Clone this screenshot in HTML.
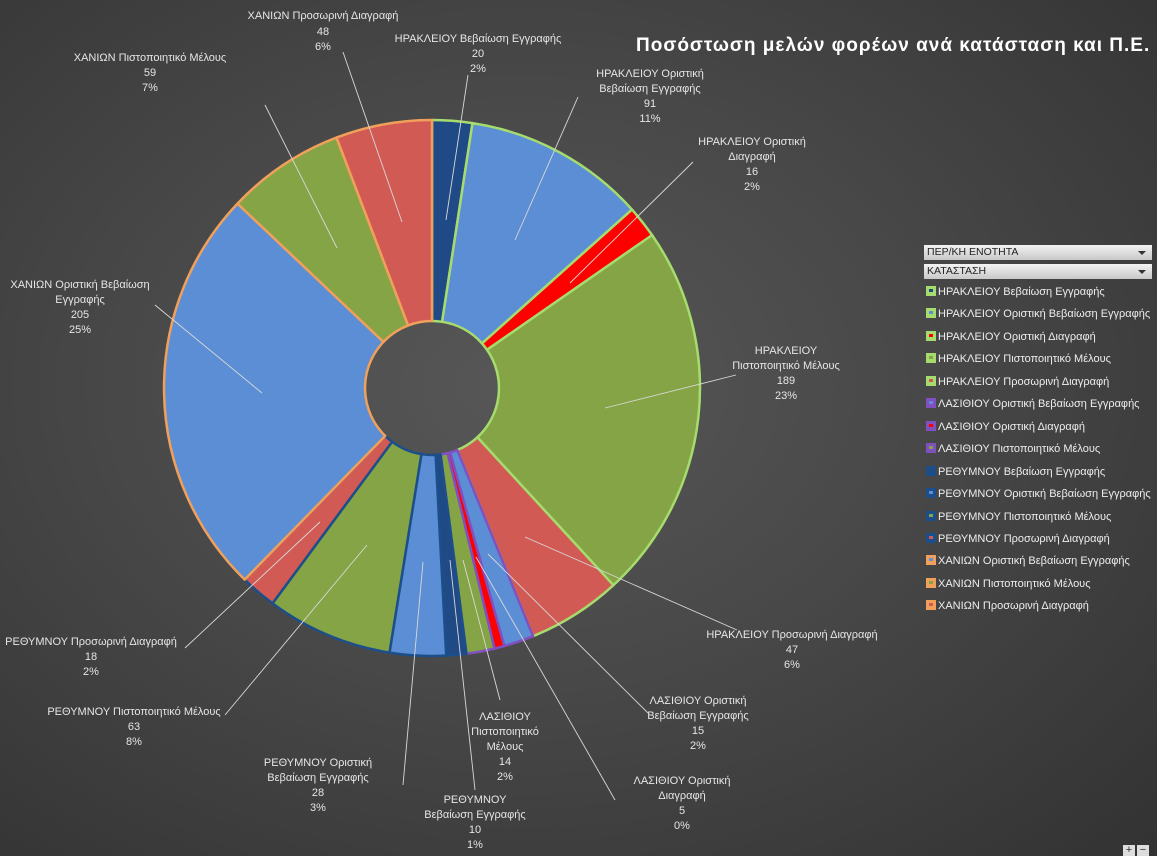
<!DOCTYPE html>
<html><head><meta charset="utf-8">
<style>
html,body{margin:0;padding:0}
body{width:1157px;height:856px;overflow:hidden;background:radial-gradient(ellipse at 45% 45%,#575757 0%,#484848 45%,#323232 100%);font-family:"Liberation Sans","DejaVu Sans",sans-serif;position:relative}
svg{position:absolute;left:0;top:0}
.lbl{font-size:11px;fill:#e6e6e6;text-anchor:middle}
.title{position:absolute;left:636px;top:35px;white-space:nowrap;color:#fff;font-weight:bold;font-size:19px;letter-spacing:1px}
.dd{position:absolute;left:924px;width:228px;height:15px;background:linear-gradient(#f2f2f2,#c8c8c8);color:#222;font-size:10.5px;line-height:15px;padding-left:3px;box-sizing:border-box}
.dd:after{content:"";position:absolute;right:6px;top:6px;border-left:4px solid transparent;border-right:4px solid transparent;border-top:4px solid #333}
.leg{position:absolute;left:926px;font-size:11px;color:#eee;white-space:nowrap;line-height:14px}
.leg i{display:inline-block;width:10px;height:10px;margin-right:2px;vertical-align:-1px;position:relative}
.leg i b{position:absolute;left:3px;top:3px;width:4px;height:3px}
.btn{position:absolute;top:845px;width:12px;height:11px;background:#ddd;color:#333;font-size:11px;line-height:10px;text-align:center}
</style></head><body>
<svg id="s" width="1157" height="856"></svg>
<div class="title">Ποσόστωση μελών φορέων ανά κατάσταση και Π.Ε.</div>
<div class="dd" style="top:245px">ΠΕΡ/ΚΗ ΕΝΟΤΗΤΑ</div>
<div class="dd" style="top:264px">ΚΑΤΑΣΤΑΣΗ</div>
<div id="legend"></div>
<div class="btn" style="left:1123px">+</div><div class="btn" style="left:1137px">−</div>
<script>
var NS="http://www.w3.org/2000/svg",s=document.getElementById('s');
var BL="#5b8ed4",GR="#84a445",RD="#d25a55",RR="#ff0000",DB="#1f4a86";
var HG="#a6dc6e",LP="#8050c0",RB="#1c4f8a",XO="#f0a05a";
var d=[[20,DB,HG],[91,BL,HG],[16,RR,HG],[189,GR,HG],[47,RD,HG],[15,BL,LP],[5,RR,LP],[14,GR,LP],[10,DB,RB],[28,BL,RB],[63,GR,RB],[18,RD,RB],[205,BL,XO],[59,GR,XO],[48,RD,XO]];
var tot=0;d.forEach(function(x){tot+=x[0]});
var cx=432,cy=388,R=268,r=67,a=-Math.PI/2;
function pt(rad,ang){return (cx+rad*Math.cos(ang)).toFixed(1)+","+(cy+rad*Math.sin(ang)).toFixed(1)}
d.forEach(function(x){
 var da=x[0]/tot*2*Math.PI,a2=a+da,lg=da>Math.PI?1:0;
 var p=document.createElementNS(NS,"path");
 p.setAttribute("d","M"+pt(R,a)+"A"+R+","+R+" 0 "+lg+" 1 "+pt(R,a2)+"L"+pt(r,a2)+"A"+r+","+r+" 0 "+lg+" 0 "+pt(r,a)+"Z");
 p.setAttribute("fill",x[1]);p.setAttribute("stroke",x[2]);p.setAttribute("stroke-width","2.5");p.setAttribute("stroke-linejoin","round");
 s.appendChild(p);a=a2;
});
var L=[
[323,[15,31,46],["ΧΑΝΙΩΝ Προσωρινή Διαγραφή","48","6%"],[343,52,402,222]],
[478,[38,53,68],["ΗΡΑΚΛΕΙΟΥ Βεβαίωση Εγγραφής","20","2%"],[468,75,446,220]],
[150,[57,72,87],["ΧΑΝΙΩΝ Πιστοποιητικό Μέλους","59","7%"],[265,105,337,248]],
[650,[73,88,103,118],["ΗΡΑΚΛΕΙΟΥ Οριστική","Βεβαίωση Εγγραφής","91","11%"],[578,97,515,240]],
[752,[141,156,171,186],["ΗΡΑΚΛΕΙΟΥ Οριστική","Διαγραφή","16","2%"],[693,162,570,283]],
[80,[284,299,314,329],["ΧΑΝΙΩΝ Οριστική Βεβαίωση","Εγγραφής","205","25%"],[155,305,262,393]],
[786,[350,365,380,395],["ΗΡΑΚΛΕΙΟΥ","Πιστοποιητικό Μέλους","189","23%"],[736,375,605,408]],
[792,[634,649,664],["ΗΡΑΚΛΕΙΟΥ Προσωρινή Διαγραφή","47","6%"],[737,630,525,537]],
[91,[641,656,671],["ΡΕΘΥΜΝΟΥ Προσωρινή Διαγραφή","18","2%"],[185,648,320,522]],
[698,[700,715,730,745],["ΛΑΣΙΘΙΟΥ Οριστική","Βεβαίωση Εγγραφής","15","2%"],[648,713,488,554]],
[134,[711,726,741],["ΡΕΘΥΜΝΟΥ Πιστοποιητικό Μέλους","63","8%"],[225,715,367,545]],
[505,[716,731,746,761,776],["ΛΑΣΙΘΙΟΥ","Πιστοποιητικό","Μέλους","14","2%"],[500,700,463,560]],
[318,[762,777,792,807],["ΡΕΘΥΜΝΟΥ Οριστική","Βεβαίωση Εγγραφής","28","3%"],[403,785,423,562]],
[682,[780,795,810,825],["ΛΑΣΙΘΙΟΥ Οριστική","Διαγραφή","5","0%"],[615,800,476,557]],
[475,[799,814,829,844],["ΡΕΘΥΜΝΟΥ","Βεβαίωση Εγγραφής","10","1%"],[475,790,450,560]]
];
L.forEach(function(l){
 var ln=document.createElementNS(NS,"line");
 ln.setAttribute("x1",l[3][0]);ln.setAttribute("y1",l[3][1]);ln.setAttribute("x2",l[3][2]);ln.setAttribute("y2",l[3][3]);
 ln.setAttribute("stroke","#d8d8d8");ln.setAttribute("stroke-width","0.9");s.appendChild(ln);
 l[2].forEach(function(t,i){var e=document.createElementNS(NS,"text");e.setAttribute("class","lbl");e.setAttribute("x",l[0]);e.setAttribute("y",l[1][i]+4);e.textContent=t;s.appendChild(e);});
});
var items=[["ΗΡΑΚΛΕΙΟΥ Βεβαίωση Εγγραφής",HG,DB],["ΗΡΑΚΛΕΙΟΥ Οριστική Βεβαίωση Εγγραφής",HG,BL],["ΗΡΑΚΛΕΙΟΥ Οριστική Διαγραφή",HG,RR],["ΗΡΑΚΛΕΙΟΥ Πιστοποιητικό Μέλους",HG,GR],["ΗΡΑΚΛΕΙΟΥ Προσωρινή Διαγραφή",HG,RD],["ΛΑΣΙΘΙΟΥ Οριστική Βεβαίωση Εγγραφής",LP,BL],["ΛΑΣΙΘΙΟΥ Οριστική Διαγραφή",LP,RR],["ΛΑΣΙΘΙΟΥ Πιστοποιητικό Μέλους",LP,GR],["ΡΕΘΥΜΝΟΥ Βεβαίωση Εγγραφής",RB,DB],["ΡΕΘΥΜΝΟΥ Οριστική Βεβαίωση Εγγραφής",RB,BL],["ΡΕΘΥΜΝΟΥ Πιστοποιητικό Μέλους",RB,GR],["ΡΕΘΥΜΝΟΥ Προσωρινή Διαγραφή",RB,RD],["ΧΑΝΙΩΝ Οριστική Βεβαίωση Εγγραφής",XO,BL],["ΧΑΝΙΩΝ Πιστοποιητικό Μέλους",XO,GR],["ΧΑΝΙΩΝ Προσωρινή Διαγραφή",XO,RD]];
var h="";items.forEach(function(it,i){var y=285+i*22.45;h+='<div class="leg" style="top:'+y.toFixed(1)+'px"><i style="background:'+it[1]+'"><b style="background:'+it[2]+'"></b></i>'+it[0]+'</div>';});
document.getElementById('legend').innerHTML=h;
</script>
</body></html>
